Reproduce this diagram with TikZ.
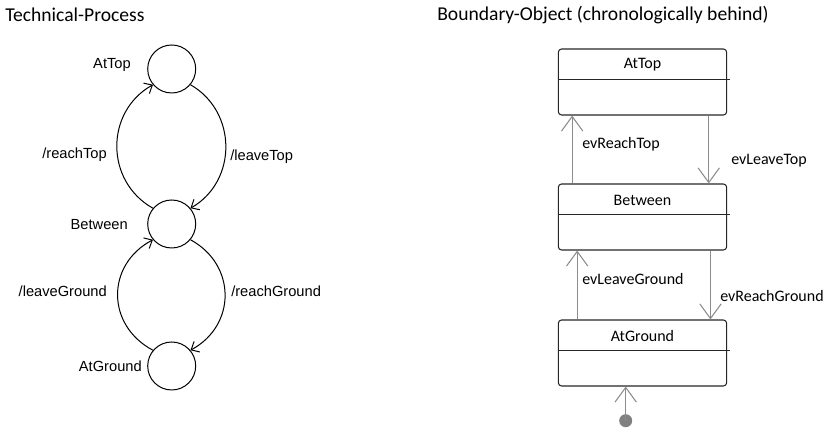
\documentclass[tikz,border=0pt]{standalone}
\usepackage{fontspec}
\setmainfont{Carlito}
\newfontfamily\arialf{Liberation Sans}
\usetikzlibrary{arrows.meta,calc}
\begin{document}
\begin{tikzpicture}[x=0.75pt,y=0.75pt,
  statecirc/.style={draw=black,line width=0.75pt,circle,minimum size=36pt,inner sep=0pt},
  lbl/.style={font=\arialf\fontsize{11pt}{13pt}\selectfont,inner sep=0pt},
  title/.style={font=\fontsize{14.7pt}{17pt}\selectfont,inner sep=0pt,anchor=west},
  blbl/.style={font=\fontsize{12pt}{14pt}\selectfont,inner sep=0pt,anchor=west},
  larrow/.style={draw=black,line width=0.75pt,-{Straight Barb[length=5pt,width=9pt]}},
  sbox/.style={draw=black!85,line width=0.8pt,rectangle,rounded corners=2.5pt,minimum width=126.3pt,minimum height=49.5pt,inner sep=0pt},
  garrow/.style={draw=black!45,line width=0.9pt,-{Straight Barb[length=11pt,width=16pt,line width=0.8pt]}},
]
\useasboundingbox (0,0) rectangle (836,434);
% titles
\node[title] (t1) at (5,419) {Technical-Process};
\node[title] (t2) at (437,419) {Boundary-Object (chronologically behind)};
% left diagram
\node[statecirc] (AtTop) at (171.7,365) {};
\node[statecirc] (Between) at (171.7,210) {};
\node[statecirc] (AtGround) at (171.7,68) {};
\node[lbl,anchor=east] (lAtTop) at (131,369) {AtTop};
\node[lbl,anchor=east] (lBetween) at (128,209) {Between};
\node[lbl,anchor=east] (lAtGround) at (142,68) {AtGround};
\draw[larrow] (Between.140) .. controls +(-48,27) and +(-48,-27) .. (AtTop.220);
\draw[larrow] (AtTop.320) .. controls +(47,-27) and +(47,27) .. (Between.40);
\draw[larrow] (AtGround.140) .. controls +(-47,25) and +(-47,-25) .. (Between.220);
\draw[larrow] (Between.320) .. controls +(46,-25) and +(46,25) .. (AtGround.40);
\node[lbl,anchor=east] (e1) at (107,279) {/reachTop};
\node[lbl,anchor=west] (e2) at (230,277) {/leaveTop};
\node[lbl,anchor=east] (e3) at (107,143) {/leaveGround};
\node[lbl,anchor=west] (e4) at (231,143) {/reachGround};
% right diagram
\node[sbox] (BAtTop) at (642.5,352) {};
\node[sbox] (BBetween) at (642.5,217) {};
\node[sbox] (BAtGround) at (642.5,81) {};
\foreach \b/\t in {BAtTop/AtTop,BBetween/Between,BAtGround/AtGround}{
  \draw[black!85,line width=0.8pt] ($(\b.north west)+(0,-31)$) -- ($(\b.north east)+(2.5,-31)$);
  \node[font=\fontsize{12pt}{14pt}\selectfont,inner sep=0pt] at ($(\b.north)+(0,-16.5)$) {\t};
}
\draw[garrow] ($(BBetween.north west)+(14.4,0)$) -- ($(BAtTop.south west)+(14.4,0)$);
\draw[garrow] ($(BAtTop.south west)+(151,0)$) -- ($(BBetween.north west)+(151,0)$);
\draw[garrow] ($(BAtGround.north west)+(19.4,0)$) -- ($(BBetween.south west)+(19.4,0)$);
\draw[garrow] ($(BBetween.south west)+(152.7,0)$) -- ($(BAtGround.north west)+(152.7,0)$);
\node[circle,fill=black!50,minimum size=9.75pt,inner sep=0pt] (init) at (625.7,13.3) {};
\draw[garrow] (init.center) -- (init.center |- BAtGround.south);
\node[blbl] (r1) at (582,290) {evReachTop};
\node[blbl] (r2) at (731,273) {evLeaveTop};
\node[blbl] (r3) at (582,155) {evLeaveGround};
\node[blbl] (r4) at (720,138) {evReachGround};
\end{tikzpicture}
\end{document}
